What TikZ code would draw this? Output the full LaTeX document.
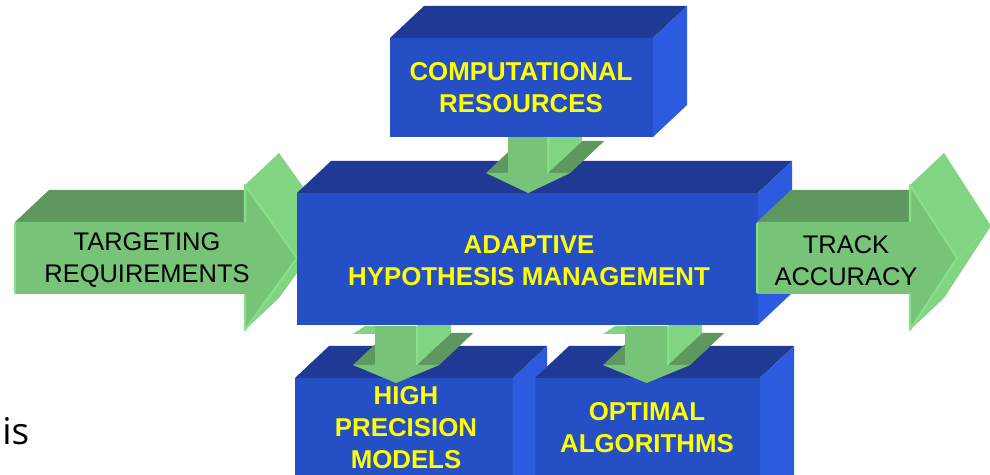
\documentclass[tikz,border=0pt]{standalone}
\usepackage{fontspec}
\setmainfont{Liberation Sans}
\newfontfamily\notefont{Open Sans}

\definecolor{boxblue}{RGB}{37,79,196}
\definecolor{boxtopblue}{RGB}{31,58,148}
\definecolor{boxsideblue}{RGB}{45,91,224}
\definecolor{arrowgreen}{RGB}{119,196,121}
\definecolor{arrowdark}{RGB}{94,152,94}
\definecolor{arrowpale}{RGB}{128,212,130}
\definecolor{arrowrim}{RGB}{136,224,138}
\definecolor{labelyellow}{RGB}{255,255,0}

\tikzset{
  boxfront/.style={fill=boxblue},
  boxtop/.style={fill=boxtopblue},
  boxside/.style={fill=boxsideblue},
  arrowfront/.style={fill=arrowgreen},
  arrowtop/.style={fill=arrowdark},
  arrowlight/.style={fill=arrowpale},
  arrowedge/.style={draw=arrowrim, line width=1.2pt, line join=round},
  boxlabel/.style={text=labelyellow, align=center,
    font=\fontsize{14.7}{18.2}\selectfont\bfseries},
  arrowlabel/.style={text=black, align=center,
    font=\fontsize{14.5}{18.2}\selectfont},
}

% depth of the extruded shapes (pixel units, y grows downwards)
\newcommand{\depthx}{34}
\newcommand{\depthy}{32}

% solid block: left, top, right, bottom of the front face
\newcommand{\blockbox}[4]{%
  \fill[boxtop] (#1,#2) -- ++(\depthx,-\depthy) -- (#3+\depthx,#2-\depthy) -- (#3,#2) -- cycle;
  \fill[boxside] (#3,#2) -- ++(\depthx,-\depthy) -- (#3+\depthx,#4-\depthy) -- (#3,#4) -- cycle;
  \fill[boxfront] (#1,#2) rectangle (#3,#4);
}

% arrow pointing right: tail x, head base x, tip x
\newcommand{\greenright}[3]{%
  \fill[arrowtop] (#1,222) -- ++(\depthx,-\depthy) -- (#2+\depthx,222-\depthy) -- (#2,222) -- cycle;
  \fill[arrowlight] (#2,185) -- (#3,258) -- ++(\depthx,-\depthy) -- (#2+\depthx,185-\depthy) -- cycle;
  \fill[arrowlight] (#3,258) -- (#2,330) -- ++(\depthx,-\depthy) -- (#3+\depthx,258-\depthy) -- cycle;
  \fill[arrowfront] (#1,222) -- (#2,222) -- (#2,185) -- (#3,258) -- (#2,330) -- (#2,294) -- (#1,294) -- cycle;
  \draw[arrowedge] (#2,222) -- (#2,185) -- (#3,258) -- (#2,330) -- (#2,294);
  \draw[arrowedge] (#1,223) -- (#1,293);
}

% arrow pointing down: shaft left, shaft right, shaft top, head base y, tip y
\newcommand{\greendown}[5]{%
  \fill[arrowtop] (#1-22,#4) -- (#1,#4) -- ++(\depthx,-\depthy) -- (#1-22+\depthx,#4-\depthy) -- cycle;
  \fill[arrowtop] (#2,#4) -- (#2+22,#4) -- ++(\depthx,-\depthy) -- (#2+\depthx,#4-\depthy) -- cycle;
  \fill[arrowtop] (#2+22,#4) -- ({(#1+#2)/2},#5) -- ++(\depthx,-\depthy) -- (#2+22+\depthx,#4-\depthy) -- cycle;
  \fill[arrowlight] (#2,#4) -- ++(\depthx,-\depthy) -- (#2+\depthx,#3-\depthy) -- (#2,#3) -- cycle;
  \fill[arrowfront] (#1,#3) -- (#2,#3) -- (#2,#4) -- (#2+22,#4) -- ({(#1+#2)/2},#5) -- (#1-22,#4) -- (#1,#4) -- cycle;
  \draw[arrowedge] (#2,#3) -- (#2,#4);
}

\begin{document}
\begin{tikzpicture}[x=0.02cm, y=-0.02cm]
  \useasboundingbox (0,0) rectangle (990,475);
  \clip (0,0) rectangle (990,475);

  % Input arrow
  \greenright{15}{245}{297}

  % Lower blocks and their links
  \blockbox{295}{378}{513}{520}
  \blockbox{535}{378}{760}{520}
  \greendown{375}{417}{326}{365}{383}
  \greendown{625}{668}{326}{365}{383}
  \fill[arrowlight] (353,334) -- (365,326) -- (375,326) -- (375,334) -- cycle;
  \fill[arrowlight] (603,334) -- (615,326) -- (625,326) -- (625,334) -- cycle;

  % Central block
  \blockbox{297}{193}{758}{325}

  % Output arrow
  \greenright{757}{910}{957}

  % Upper block and its link
  \greendown{508}{548}{137}{173}{193}
  \blockbox{390}{38}{653}{137}

  % Labels
  \node[boxlabel] (resources) at (521,88) {COMPUTATIONAL\\RESOURCES};
  \node[boxlabel] (management) at (529,261) {ADAPTIVE\\HYPOTHESIS MANAGEMENT};
  \node[boxlabel] (models) at (406,428) {HIGH\\PRECISION\\MODELS};
  \node[boxlabel] (algorithms) at (647,428) {OPTIMAL\\ALGORITHMS};
  \node[arrowlabel] (targeting) at (147,260) {TARGETING\\REQUIREMENTS};
  \node[arrowlabel] (accuracy) at (846,261) {TRACK\\ACCURACY};
  \node[font=\notefont\fontsize{21}{24}\selectfont, anchor=base west, inner sep=0pt] (isword) at (2,445) {is};
\end{tikzpicture}
\end{document}
